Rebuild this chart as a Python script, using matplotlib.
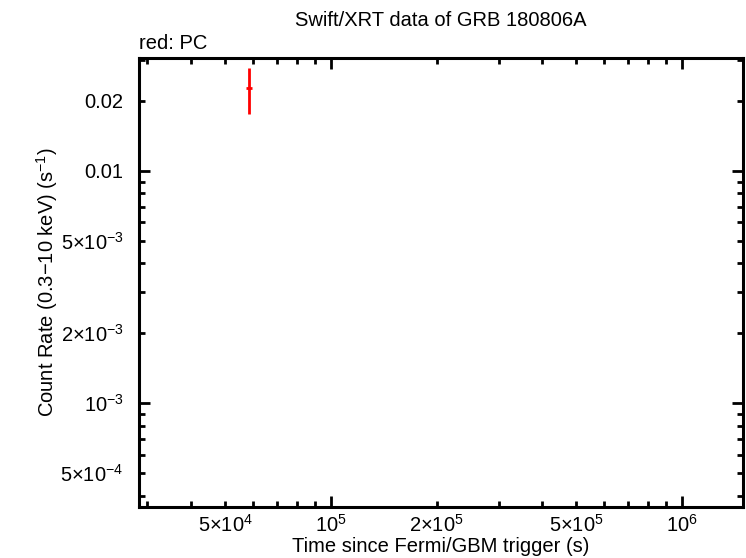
import numpy as np
import matplotlib
matplotlib.use('Agg')
import matplotlib.pyplot as plt
from matplotlib.ticker import FuncFormatter, LogLocator

plt.rcParams['font.family'] = ['Liberation Sans', 'DejaVu Sans']
plt.rcParams['mathtext.fontset'] = 'custom'
plt.rcParams['mathtext.rm'] = 'Liberation Sans'
plt.rcParams['mathtext.it'] = 'Liberation Sans:italic'
plt.rcParams['mathtext.bf'] = 'Liberation Sans:bold'

# PC mode data (one point)
t = [5.83e4]
t_lo = [5.73e4]
t_hi = [5.96e4]
rate = [0.0227]
rate_lo = [0.01756]
rate_hi = [0.02767]

x_labels = {5e4: r'$5{\times}10^{4}$', 1e5: r'$10^{5}$', 2e5: r'$2{\times}10^{5}$',
            5e5: r'$5{\times}10^{5}$', 1e6: r'$10^{6}$'}
y_labels = {0.02: '0.02', 0.01: '0.01', 5e-3: r'$5{\times}10^{-3}$', 2e-3: r'$2{\times}10^{-3}$',
            1e-3: r'$10^{-3}$', 5e-4: r'$5{\times}10^{-4}$'}

fs = 14.5

fig = plt.figure(figsize=(7.46, 5.58), dpi=100)
ax = fig.add_axes([139/746, 1-507/558, (743-139)/746, (507-58)/558])

t = np.array(t); rate = np.array(rate)
xerr = [t - np.array(t_lo), np.array(t_hi) - t]
yerr = [rate - np.array(rate_lo), np.array(rate_hi) - rate]
ax.errorbar(t, rate, xerr=xerr, yerr=yerr, fmt='none', ecolor='red', elinewidth=2, capsize=0)

ax.set_xscale('log')
ax.set_yscale('log')
ax.set_xlim(2.84e4, 1.49e6)
ax.set_ylim(3.58e-4, 0.0306)

def lab(d):
    def f(v, pos):
        for k, s in d.items():
            if abs(v - k) / k < 1e-6:
                return s
        return ''
    return f

for axis, d in ((ax.xaxis, x_labels), (ax.yaxis, y_labels)):
    axis.set_major_locator(LogLocator(base=10, numticks=20))
    axis.set_minor_locator(LogLocator(base=10, subs=np.arange(2, 10), numticks=20))
    axis.set_major_formatter(FuncFormatter(lab(d)))
    axis.set_minor_formatter(FuncFormatter(lab(d)))

ax.tick_params(which='both', direction='in', top=True, right=True, width=2, labelsize=fs)
ax.tick_params(axis='y', which='both', pad=11)
ax.tick_params(axis='x', which='both', pad=5)
ax.tick_params(which='major', length=8)
ax.tick_params(which='minor', length=4)
for s in ax.spines.values():
    s.set_linewidth(2.2)

ax.set_xlabel('Time since Fermi/GBM trigger (s)', fontsize=fs, labelpad=1)
ax.set_ylabel(r'Count Rate (0.3$-$10 keV) (s$^{-1}$)', fontsize=fs, labelpad=0)
ax.set_title('Swift/XRT data of GRB 180806A', fontsize=fs, pad=23)
ax.text(0, 1.012, 'red: PC', transform=ax.transAxes, fontsize=fs, ha='left', va='bottom')

fig.savefig('out.png', dpi=100)
